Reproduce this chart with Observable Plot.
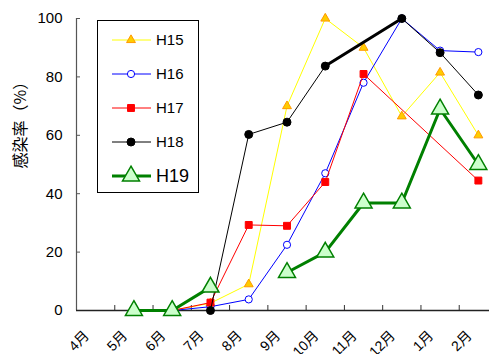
<!DOCTYPE html>
<html>
<head>
<meta charset="utf-8">
<script src="https://cdn.jsdelivr.net/npm/d3@7"></script>
<script src="https://cdn.jsdelivr.net/npm/@observablehq/plot@0.6"></script>
<style>
  body { margin: 0; background: #fff; }
  #chart { position: relative; width: 489px; height: 354px; overflow: hidden; }
</style>
</head>
<body>
<div id="chart"></div>
<script>
// Survey months (April through February)
const months = ["4月", "5月", "6月", "7月", "8月", "9月", "10月", "11月", "12月", "1月", "2月"];
const yTicks = [0, 20, 40, 60, 80, 100];
const yLabel = "感染率（%）";

// Infection rate (%) per season; null = no survey that month
const H15 = [null, 0, 0, 2.5, 9, 70, 100, 90, 66.5, 81.5, 60];
const H16 = [null, 0, 0, 1.3, 3.8, 22.5, 47, 78, 100, 89, 88.5];
const H17 = [null, 0, 0, 2.7, 29.3, 29, 44, 81, null, null, 44.5];
const H18 = [null, null, null, 0, 60.3, 64.5, 83.7, null, 100, 88.3, 73.8];
const H19 = [null, 0, 0, 8, null, 13, 20, 36.8, 36.8, 69, 50];

const seriesNames = ["H15", "H16", "H17", "H18", "H19"];
const seriesValues = {H15, H16, H17, H18, H19};

// Drawing style per season
const styles = {
  H15: {line: "#ffff00", width: 1, symbol: "triangle", r: 3.3, fill: "#ffcc00", stroke: "#ff9900", bridge: true, bridgeWidth: 1, font: 15},
  H16: {line: "#0000ff", width: 1, symbol: "circle", r: 3.6, fill: "#ffffff", stroke: "#0000ff", bridge: true, bridgeWidth: 1, font: 15},
  H17: {line: "#ff0000", width: 1, symbol: "square", r: 3.9, fill: "#ff0000", stroke: "#ff0000", bridge: true, bridgeWidth: 1, font: 15},
  H18: {line: "#000000", width: 1, symbol: "circle", r: 4, fill: "#000000", stroke: "#000000", bridge: true, bridgeWidth: 3, font: 15},
  H19: {line: "#008000", width: 3, symbol: "triangle", r: 6.3, fill: "#ccffcc", stroke: "#008000", bridge: false, bridgeWidth: 3, font: 18}
};

// Tidy rows: one per season and month
const rows = seriesNames.flatMap(s =>
  seriesValues[s].map((v, i) => ({series: s, i, month: months[i], v}))
);

const xPos = d => d.i + 0.5;
const marks = [];

// Axis lines and inward tick marks
marks.push(Plot.ruleX([0], {stroke: "#555", strokeWidth: 1.2}));
marks.push(Plot.ruleY(yTicks, {x1: 0, x2: 0, insetRight: -4, stroke: "#555"}));
marks.push(Plot.ruleX(d3.range(1, months.length + 1), {y1: 0, y2: 0, insetBottom: 5, stroke: "#333"}));
marks.push(Plot.ruleY([0], {stroke: "#222", strokeWidth: 1.3}));

// Lines, then markers, season by season
for (const s of seriesNames) {
  const st = styles[s];
  const data = rows.filter(d => d.series === s);
  const present = data.filter(d => d.v != null);
  if (st.bridge) {
    marks.push(Plot.line(present, {x: xPos, y: "v", stroke: st.line, strokeWidth: st.width}));
    // segments that span skipped months
    const bridges = [];
    for (let k = 1; k < present.length; k++) {
      if (present[k].i - present[k - 1].i > 1) bridges.push([present[k - 1], present[k]]);
    }
    if (st.bridgeWidth !== st.width) {
      bridges.forEach(pair => marks.push(Plot.line(pair, {x: xPos, y: "v", stroke: st.line, strokeWidth: st.bridgeWidth})));
    }
  } else {
    marks.push(Plot.line(data, {x: xPos, y: d => d.v == null ? NaN : d.v, stroke: st.line, strokeWidth: st.width}));
  }
  marks.push(Plot.dot(present, {x: xPos, y: "v", symbol: st.symbol, r: st.r, fill: st.fill, stroke: st.stroke, strokeWidth: s === "H19" ? 1.5 : 1}));
}

// Y tick labels
marks.push(Plot.axisY(yTicks, {tickSize: 0, tickPadding: 14, fontSize: 15, label: null}));

// Month labels, rotated
marks.push(Plot.text(months, {x: (d, i) => i + 0.5, y: 0, text: d => d, rotate: -45, textAnchor: "end", lineAnchor: "middle", dx: -9, dy: 23, fontSize: 14, fill: "black"}));

// Y axis title
marks.push(Plot.text([yLabel], {frameAnchor: "left", rotate: -90, dx: -56, dy: 4, fontSize: 16, fill: "black", fontFamily: "'Noto Sans CJK JP', sans-serif"}));

const plot = Plot.plot({
  width: 489,
  height: 354,
  marginLeft: 76,
  marginRight: 0,
  marginTop: 18,
  marginBottom: 44,
  style: {fontFamily: "'Liberation Sans', 'Noto Sans CJK JP', sans-serif", fontSize: "15px", background: "#fff", color: "#000", overflow: "hidden"},
  x: {type: "linear", domain: [0, months.length], range: [76, 497], axis: null},
  y: {domain: [0, 100], axis: null},
  marks
});

// Legend box
const svg = d3.select(plot);
const lg = svg.append("g");
lg.append("rect").attr("x", 97.5).attr("y", 20.5).attr("width", 101).attr("height", 172)
  .attr("fill", "#fff").attr("stroke", "#000").attr("stroke-width", 1);
const symbols = {triangle: d3.symbolTriangle, circle: d3.symbolCircle, square: d3.symbolSquare};
seriesNames.forEach((s, k) => {
  const st = styles[s];
  const cy = 40 + k * 34;
  lg.append("line").attr("x1", 112).attr("x2", 151).attr("y1", cy).attr("y2", cy)
    .attr("stroke", st.line).attr("stroke-width", st.width);
  lg.append("path").attr("transform", `translate(131,${cy})`)
    .attr("d", d3.symbol(symbols[st.symbol], Math.PI * st.r * st.r)())
    .attr("fill", st.fill).attr("stroke", st.stroke).attr("stroke-width", s === "H19" ? 1.5 : 1);
  lg.append("text").attr("x", 156).attr("y", cy).attr("dy", "0.36em")
    .attr("text-anchor", "start").attr("font-size", st.font).attr("fill", "#000").text(s);
});

document.getElementById("chart").appendChild(plot);
</script>
</body>
</html>
